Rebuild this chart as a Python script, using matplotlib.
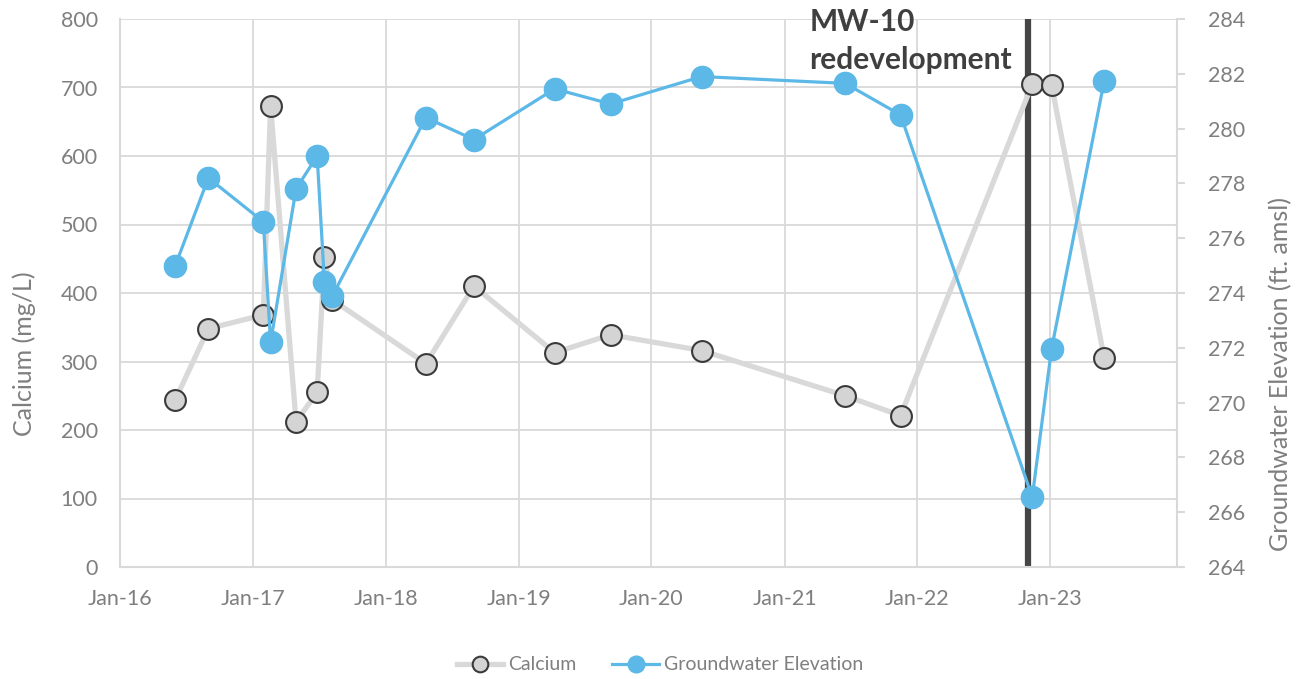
import numpy as np
import pandas as pd
import matplotlib
matplotlib.use("Agg")
import matplotlib.pyplot as plt
import matplotlib.dates as mdates

# ---- data ----
sample_dates = ["2016-06-01", "2016-08-31", "2017-01-29", "2017-02-18", "2017-04-29",
                "2017-06-26", "2017-07-16", "2017-08-07", "2018-04-21", "2018-08-31",
                "2019-04-10", "2019-09-11", "2020-05-18", "2021-06-17", "2021-11-16",
                "2022-11-13", "2023-01-05", "2023-05-30"]
calcium = [244, 348, 368, 673, 212, 255, 453, 390, 297, 410,
           313, 339, 316, 250, 221, 705, 704, 305]
gw_elev = [275.0, 278.2, 276.6, 272.2, 277.8, 279.0, 274.4, 273.9, 280.4, 279.6,
           281.45, 280.9, 281.9, 281.65, 280.5, 266.55, 271.95, 281.75]
redevelop_date = "2022-11-01"

dates = pd.to_datetime(sample_dates)

GRID = "#d9d9d9"
TXT = "#7f7f7f"
BLUE = "#5cb8e6"
W, H = 1304, 679

plt.rcParams["font.family"] = ["Lato", "DejaVu Sans"]
plt.rcParams["font.size"] = 15

fig = plt.figure(figsize=(W / 100, H / 100), dpi=100)
ax = fig.add_axes([120 / W, 1 - 567 / H, (1177 - 120) / W, (567 - 19) / H])
ax2 = ax.twinx()

# vertical event line
ax.axvline(pd.Timestamp(redevelop_date), color="#454545", lw=4.5, zorder=1)

ax.plot(dates, calcium, color="#d9d9d9", lw=3.8, marker="o", markersize=15,
        markerfacecolor="#d4d4d4", markeredgecolor="#3a3a3a", markeredgewidth=1.5,
        zorder=3, label="Calcium")
ax2.plot(dates, gw_elev, color=BLUE, lw=2.3, marker="o", markersize=16,
         markerfacecolor=BLUE, markeredgecolor=BLUE, zorder=3,
         label="Groundwater Elevation")

ax.set_xlim(pd.Timestamp("2016-01-01"), pd.Timestamp("2023-12-16"))
ax.set_ylim(0, 800)
ax.set_yticks(range(0, 801, 100))
ax2.set_ylim(264, 284)
ax2.set_yticks(range(264, 285, 2))

ax.xaxis.set_major_locator(mdates.MonthLocator(bymonth=1))
ax.xaxis.set_major_formatter(mdates.DateFormatter("%b-%y"))

ax.grid(True, color=GRID, lw=1.3)
ax.set_axisbelow(True)

for a in (ax, ax2):
    for s in a.spines.values():
        s.set_visible(False)
for a, side in ((ax, "left"), (ax, "bottom"), (ax2, "right")):
    a.spines[side].set_visible(True)
    a.spines[side].set_color(GRID)
    a.spines[side].set_linewidth(1.5)

ax.tick_params(axis="y", length=0, colors=TXT, labelsize=15.5, pad=16)
ax.tick_params(axis="x", length=0, colors=TXT, labelsize=15.5, pad=16)
ax2.tick_params(axis="y", length=5.5, width=1.5, color=GRID, labelcolor=TXT,
                labelsize=15.5, pad=17)

# axis titles placed where the reference has them
fig.text(24 / W, 1 - 354 / H, "Calcium (mg/L)", rotation=90, color=TXT,
         fontsize=18, ha="center", va="center")
fig.text(1281 / W, 1 - 374 / H, "Groundwater Elevation (ft. amsl)", rotation=90,
         color=TXT, fontsize=18, ha="center", va="center")

ax.text(pd.Timestamp("2021-03-10"), 816, "MW-10\nredevelopment", fontsize=21.5,
        fontweight="bold", color="#3f3f3f", ha="left", va="top",
        linespacing=1.42, clip_on=False, zorder=5)

h1, l1 = ax.get_legend_handles_labels()
h2, l2 = ax2.get_legend_handles_labels()
fig.legend(h1 + h2, l1 + l2, loc="center", bbox_to_anchor=(660 / W, 1 - 665 / H),
           ncol=2, frameon=False, fontsize=14, labelcolor=TXT,
           handlelength=2.4, columnspacing=1.85, handletextpad=0.26,
           markerscale=0.75)

fig.savefig("out.png", dpi=100, facecolor="white")
